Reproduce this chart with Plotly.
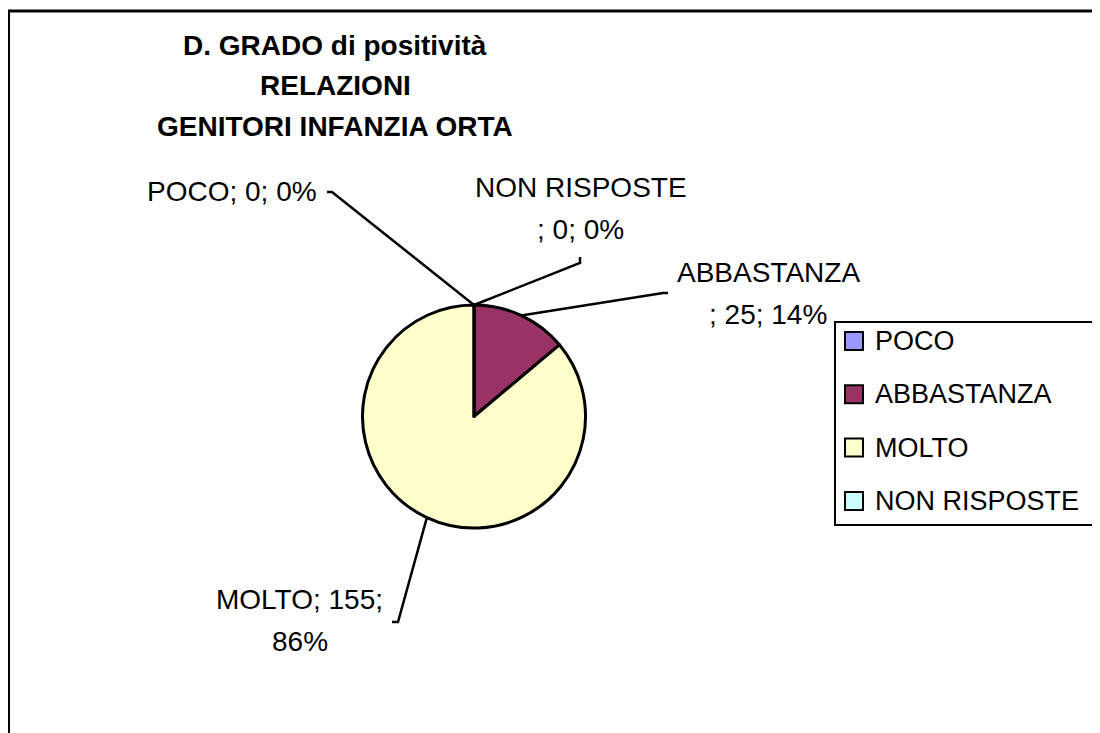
import math
import plotly.graph_objects as go

# ---------------- data ----------------
labels = ["POCO", "ABBASTANZA", "MOLTO", "NON RISPOSTE"]
values = [0, 25, 155, 0]
colors = ["#9999FF", "#993366", "#FFFFCC", "#CCFFFF"]
title_lines = ["D. GRADO di positività", "RELAZIONI", "GENITORI INFANZIA ORTA"]

# ---------------- layout constants (screen pixels) ----------------
W, H = 1100, 733
OFF = 8  # page body margin of the browser
CX, CY, R = 474, 416.5, 111.5
FONT = "Arial, Liberation Sans, sans-serif"
FS = 28


def px(x):
    return (x - OFF) / W


def py(y):
    return 1 - (y - OFF) / H


# label placement: line split, text centre x, first-line centre y,
# leader knee point and short tick end
label_layout = {
    "POCO": dict(split=None, cx=231.5, cy=191, knee=(332, 192), tick=(327, 192)),
    "NON RISPOSTE": dict(split="label", cx=580.5, cy=187, knee=(580, 263), tick=(580, 257)),
    "ABBASTANZA": dict(split="label", cx=768, cy=272, knee=(663, 293), tick=(668, 293)),
    "MOLTO": dict(split="pct", cx=299.5, cy=599, knee=(398, 622), tick=(392, 622)),
}
LINE_GAP = 42

total = sum(values)
pcts = [round(v / total * 100) for v in values]

fig = go.Figure()
fig.add_trace(go.Pie(
    labels=labels,
    values=values,
    sort=False,
    direction="clockwise",
    rotation=0,
    marker=dict(colors=colors, line=dict(color="black", width=3)),
    textinfo="none",
    hoverinfo="label+value+percent",
    showlegend=False,
    domain=dict(x=[px(CX - R), px(CX + R)], y=[py(CY + R), py(CY - R)]),
))

shapes = []
annotations = []

# outer chart border (right and bottom edges fall outside the picture)
shapes.append(dict(type="rect", xref="paper", yref="paper",
                   x0=px(8.5), y0=py(11), x1=px(1130), y1=py(770),
                   line=dict(color="black", width=3), fillcolor="rgba(0,0,0,0)",
                   layer="above"))

# title
for i, t in enumerate(title_lines):
    annotations.append(dict(text=f"<b>{t}</b>", x=px(335), y=py(46 + 40 * i),
                            xref="paper", yref="paper", showarrow=False,
                            xanchor="center", yanchor="middle",
                            font=dict(family=FONT, size=FS, color="black")))

# data labels + leader lines
cum = 0
for lab, val, pct in zip(labels, values, pcts):
    mid = (cum + val / 2) / total * 2 * math.pi
    cum += val
    cfg = label_layout[lab]
    if cfg["split"] is None:
        lines = [f"{lab}; {val}; {pct}%"]
    elif cfg["split"] == "label":
        lines = [lab, f"; {val}; {pct}%"]
    else:
        lines = [f"{lab}; {val};", f"{pct}%"]
    for j, ln in enumerate(lines):
        annotations.append(dict(text=ln, x=px(cfg["cx"]), y=py(cfg["cy"] + LINE_GAP * j),
                                xref="paper", yref="paper", showarrow=False,
                                xanchor="center", yanchor="middle",
                                font=dict(family=FONT, size=FS, color="black")))
    ex = CX + R * math.sin(mid)
    ey = CY - R * math.cos(mid)
    kx, ky = cfg["knee"]
    tx, ty = cfg["tick"]
    path = f"M {px(ex)} {py(ey)} L {px(kx)} {py(ky)} L {px(tx)} {py(ty)}"
    shapes.append(dict(type="path", xref="paper", yref="paper", path=path,
                       line=dict(color="black", width=2.5), layer="above"))

# legend (custom, to reproduce the wide item spacing)
LX0, LY0, LX1, LY1 = 835, 322, 1098, 525
shapes.append(dict(type="rect", xref="paper", yref="paper",
                   x0=px(LX0), y0=py(LY0), x1=px(LX1), y1=py(LY1),
                   line=dict(color="black", width=2), fillcolor="white", layer="above"))
for i, (lab, col) in enumerate(zip(labels, colors)):
    yc = 341 + 53.3 * i
    shapes.append(dict(type="rect", xref="paper", yref="paper",
                       x0=px(845), y0=py(yc - 9), x1=px(863), y1=py(yc + 9),
                       line=dict(color="black", width=2), fillcolor=col, layer="above"))
    annotations.append(dict(text=lab, x=px(873), y=py(yc), xref="paper", yref="paper",
                            showarrow=False, xanchor="left", yanchor="middle",
                            font=dict(family=FONT, size=27, color="black")))

fig.update_layout(
    width=W, height=H,
    margin=dict(l=0, r=0, t=0, b=0),
    paper_bgcolor="white", plot_bgcolor="white",
    shapes=shapes, annotations=annotations,
)

fig.write_html("out.html")
